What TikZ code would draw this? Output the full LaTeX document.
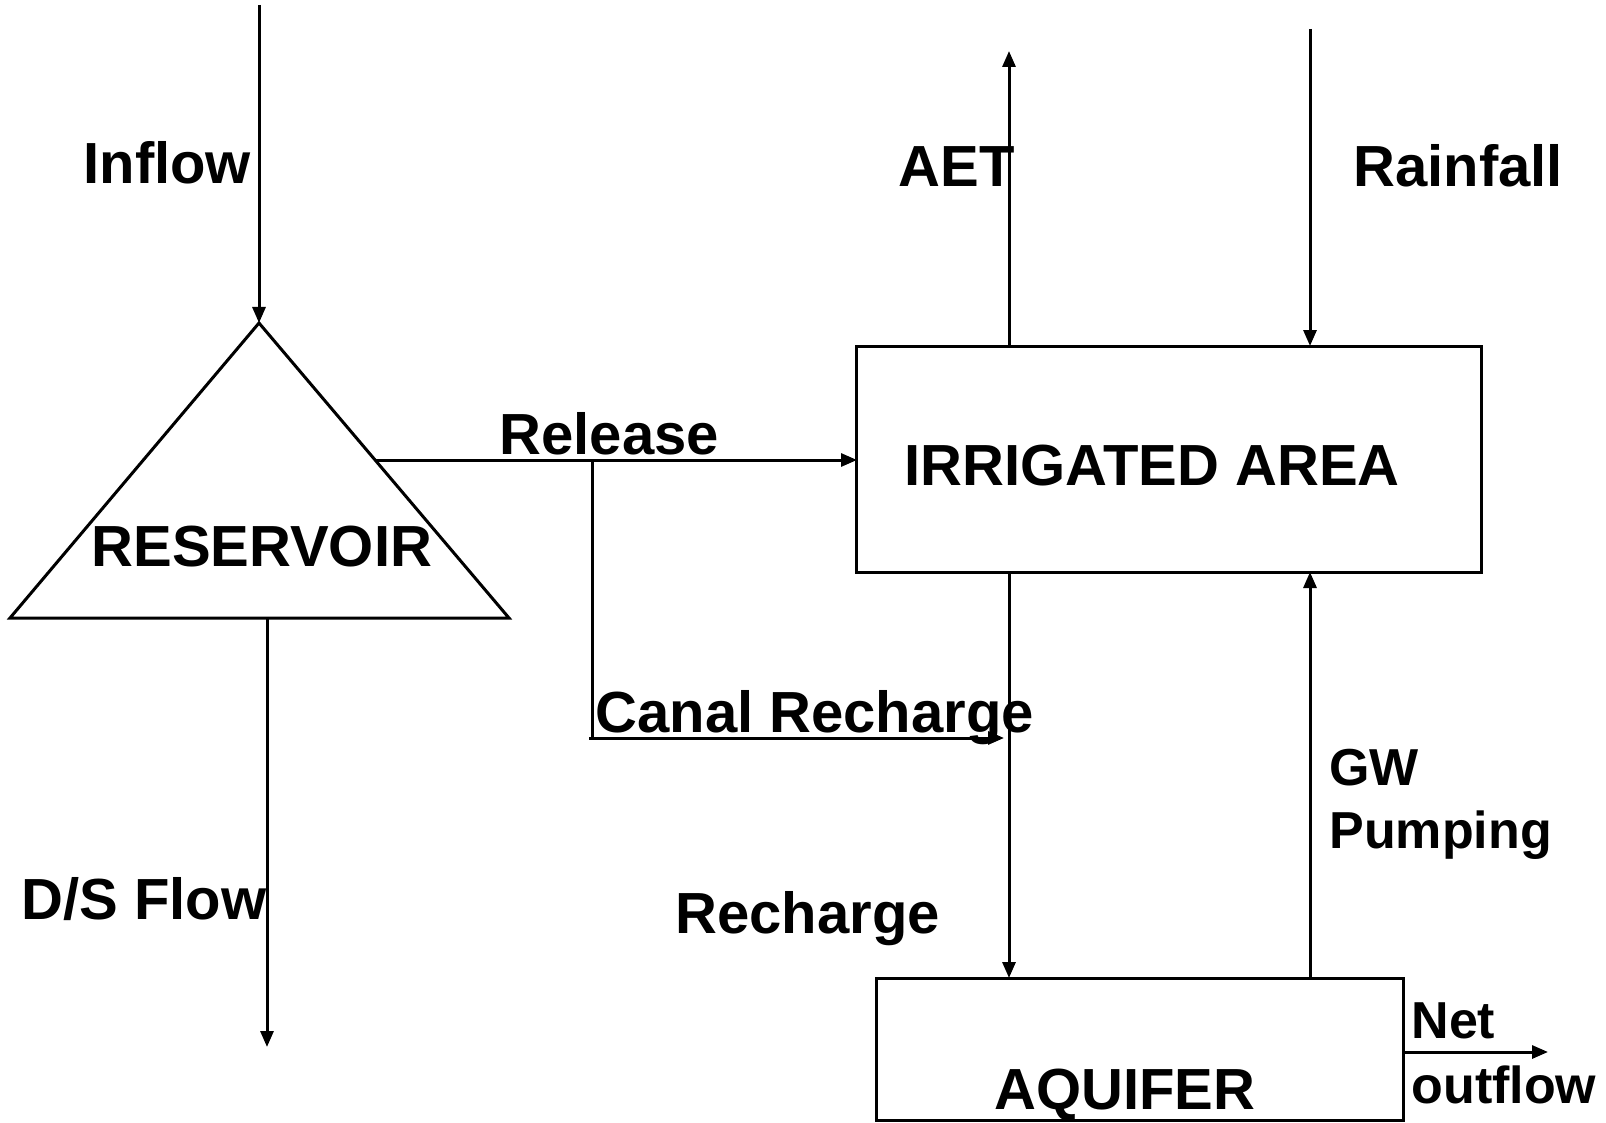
\documentclass[tikz,border=0pt]{standalone}
\usepackage{fontspec}
\setmainfont{Liberation Sans}
\usetikzlibrary{arrows.meta}
\begin{document}
\begin{tikzpicture}[x=1pt,y=-1pt,
  line width=3pt,
  flow/.style={-{Triangle[length=16pt,width=13pt]}},
  lbl/.style={anchor=base west,inner sep=0pt,font=\fontsize{58}{60}\selectfont\bfseries},
  slbl/.style={anchor=base west,inner sep=0pt,font=\fontsize{52}{62}\selectfont\bfseries},
  box/.style={draw,line width=3pt}]
\useasboundingbox[fill=white] (0,0) rectangle (1606,1123);
% reservoir triangle
\coordinate (apex) at (259,323);
\coordinate (bl) at (10,618);
\coordinate (br) at (509,618);
\draw (apex) -- (bl) -- (br) -- cycle;
% boxes
\draw[box] (856,346) rectangle (1481,572);
\draw[box] (876,1120) -- (876,978) -- (1403,978) -- (1403,1120) -- cycle;
% coordinates
\coordinate (inTop) at (259,5);
\coordinate (dsTop) at (267,618);
\coordinate (dsEnd) at (267,1047);
\coordinate (relStart) at (375,460);
\coordinate (relEnd) at (857,460);
\coordinate (canTop) at (592,460);
\coordinate (canCorner) at (592,738);
\coordinate (canEnd) at (1004,738);
\coordinate (aetBot) at (1009,346);
\coordinate (aetTop) at (1009,51);
\coordinate (rainTop) at (1310,29);
\coordinate (rainBot) at (1310,346);
\coordinate (rechTop) at (1009,572);
\coordinate (rechBot) at (1009,978);
\coordinate (gwBot) at (1310,978);
\coordinate (gwTop) at (1310,572);
\coordinate (netStart) at (1403,1052);
\coordinate (netEnd) at (1548,1052);
% connectors
\draw[flow] (inTop) -- (apex);
\draw[flow] (dsTop) -- (dsEnd);
\draw[flow] (relStart) -- (relEnd);
\draw (canTop) -- (canCorner);
\draw[flow] (589,738) -- (canEnd);
\draw[flow] (aetBot) -- (aetTop);
\draw[flow] (rainTop) -- (rainBot);
\draw[flow] (rechTop) -- (rechBot);
\draw[flow] (gwBot) -- (gwTop);
\draw[flow] (netStart) -- (netEnd);
% labels
\node[lbl] (tInflow) at (82,184) {Inflow};
\node[lbl] (tAET) at (897,187) {AET};
\node[lbl] (tRain) at (1352,187) {Rainfall};
\node[lbl] (tRel) at (498,454) {Release};
\node[lbl] (tIrr) at (903,485) {IRRIGATED AREA};
\node[lbl] (tRes) at (90,566) {RESERVOIR};
\node[lbl] (tCanal) at (594,732) {Canal Recharge};
\node[lbl] (tDS) at (20,919) {D/S Flow};
\node[lbl] (tRech) at (674,933) {Recharge};
\node[slbl] (tGW) at (1328,785) {GW};
\node[slbl] (tPump) at (1328,848) {Pumping};
\node[slbl] (tNet) at (1410,1038) {Net};
\node[slbl] (tOut) at (1410,1103) {outflow};
\node[lbl] (tAq) at (993,1109) {AQUIFER};
\end{tikzpicture}
\end{document}
